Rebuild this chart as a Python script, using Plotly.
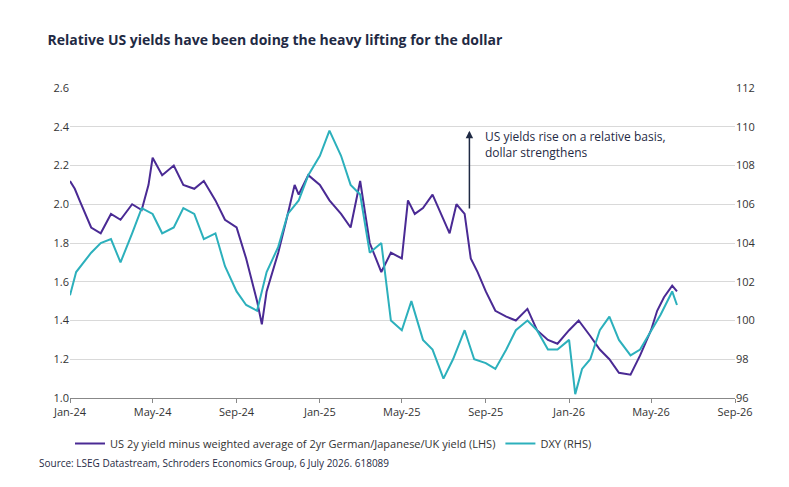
import plotly.graph_objects as go

# LHS: US 2y minus weighted avg of German/Japanese/UK 2y (pp)
spread_dates = [
    "2024-01-01", "2024-01-08", "2024-01-15", "2024-02-01", "2024-02-15", "2024-03-01", "2024-03-15",
    "2024-04-01", "2024-04-15", "2024-04-25", "2024-05-01", "2024-05-15", "2024-06-01", "2024-06-15",
    "2024-07-01", "2024-07-15", "2024-08-01", "2024-08-15", "2024-09-01", "2024-09-15", "2024-10-01",
    "2024-10-08", "2024-10-15", "2024-11-01", "2024-11-15", "2024-11-25", "2024-12-01", "2024-12-15",
    "2025-01-01", "2025-01-15", "2025-02-01", "2025-02-15", "2025-03-01", "2025-03-15", "2025-04-01",
    "2025-04-15", "2025-05-01", "2025-05-10", "2025-05-20", "2025-06-01", "2025-06-15", "2025-07-01",
    "2025-07-10", "2025-07-20", "2025-08-01", "2025-08-10", "2025-08-20", "2025-09-01", "2025-09-15",
    "2025-10-01", "2025-10-15", "2025-11-01", "2025-11-15", "2025-12-01", "2025-12-15", "2026-01-01",
    "2026-01-15", "2026-02-01", "2026-02-15", "2026-03-01", "2026-03-15", "2026-04-01", "2026-04-15",
    "2026-05-01", "2026-05-10", "2026-05-20", "2026-06-01", "2026-06-08",
]
spread = [
    2.12, 2.08, 2.02, 1.88, 1.85, 1.95, 1.92,
    2.00, 1.97, 2.10, 2.24, 2.15, 2.20, 2.10,
    2.08, 2.12, 2.02, 1.92, 1.88, 1.72, 1.50,
    1.38, 1.55, 1.75, 1.95, 2.10, 2.05, 2.15,
    2.10, 2.02, 1.95, 1.88, 2.12, 1.80, 1.65,
    1.75, 1.72, 2.02, 1.95, 1.98, 2.05, 1.92,
    1.85, 2.00, 1.95, 1.72, 1.65, 1.55, 1.45,
    1.42, 1.40, 1.46, 1.35, 1.30, 1.28, 1.35,
    1.40, 1.32, 1.25, 1.20, 1.13, 1.12, 1.22,
    1.35, 1.45, 1.52, 1.58, 1.55,
]

# RHS: DXY index
dxy_dates = [
    "2024-01-01", "2024-01-10", "2024-02-01", "2024-02-15", "2024-03-01", "2024-03-15", "2024-04-01",
    "2024-04-15", "2024-05-01", "2024-05-15", "2024-06-01", "2024-06-15", "2024-07-01", "2024-07-15",
    "2024-08-01", "2024-08-15", "2024-09-01", "2024-09-15", "2024-10-01", "2024-10-15", "2024-11-01",
    "2024-11-15", "2024-12-01", "2024-12-15", "2025-01-01", "2025-01-15", "2025-02-01", "2025-02-15",
    "2025-03-01", "2025-03-15", "2025-04-01", "2025-04-15", "2025-05-01", "2025-05-15", "2025-06-01",
    "2025-06-15", "2025-07-01", "2025-07-15", "2025-08-01", "2025-08-15", "2025-09-01", "2025-09-15",
    "2025-10-01", "2025-10-15", "2025-11-01", "2025-11-15", "2025-12-01", "2025-12-15", "2026-01-01",
    "2026-01-10", "2026-01-20", "2026-02-01", "2026-02-15", "2026-03-01", "2026-03-15", "2026-04-01",
    "2026-04-15", "2026-05-01", "2026-05-15", "2026-06-01", "2026-06-08",
]
dxy = [
    101.3, 102.5, 103.5, 104.0, 104.2, 103.0, 104.5,
    105.8, 105.5, 104.5, 104.8, 105.8, 105.5, 104.2,
    104.5, 102.8, 101.5, 100.8, 100.5, 102.5, 103.8,
    105.5, 106.2, 107.5, 108.5, 109.8, 108.5, 107.0,
    106.5, 103.5, 104.0, 100.0, 99.5, 101.0, 99.0,
    98.5, 97.0, 98.0, 99.5, 98.0, 97.8, 97.5,
    98.5, 99.5, 100.0, 99.5, 98.5, 98.5, 99.0,
    96.2, 97.5, 98.0, 99.5, 100.2, 99.0, 98.2,
    98.5, 99.5, 100.3, 101.5, 100.8,
]

x_ticks = ["2024-01-01", "2024-05-01", "2024-09-01", "2025-01-01", "2025-05-01",
           "2025-09-01", "2026-01-01", "2026-05-01", "2026-09-01"]
x_labels = ["Jan-24", "May-24", "Sep-24", "Jan-25", "May-25", "Sep-25", "Jan-26", "May-26", "Sep-26"]

NAVY = "#1f2a44"
PURPLE = "#4a2a94"
TEAL = "#2cb0bc"

fig = go.Figure()
fig.add_trace(go.Scatter(
    x=spread_dates, y=spread, mode="lines", line=dict(color=PURPLE, width=2),
    name="US 2y yield minus weighted average of 2yr German/Japanese/UK yield (LHS)",
))
fig.add_trace(go.Scatter(
    x=dxy_dates, y=dxy, mode="lines", line=dict(color=TEAL, width=2),
    name="DXY (RHS)", yaxis="y2",
))

# arrow pointing up
fig.add_annotation(x="2025-08-08", y=2.38, ax="2025-08-08", ay=1.97,
                   xref="x", yref="y", axref="x", ayref="y", text="",
                   showarrow=True, arrowhead=2, arrowwidth=1.5, arrowcolor=NAVY)
fig.add_annotation(x="2025-08-28", y=2.31, xref="x", yref="y", xanchor="left", yanchor="middle",
                   align="left", showarrow=False,
                   text="US yields rise on a relative basis,<br>dollar strengthens",
                   font=dict(size=12, color=NAVY))

fig.update_layout(
    width=789, height=487,
    paper_bgcolor="white", plot_bgcolor="white",
    font=dict(family="Open Sans", color="#333333", size=11),
    margin=dict(l=62, r=62, t=80, b=97),
    title=dict(text="<b>Relative US yields have been doing the heavy lifting for the dollar</b>",
               x=0.05, xanchor="left", y=0.945, font=dict(size=14, color=NAVY)),
    xaxis=dict(range=["2024-01-01", "2026-09-01"], tickvals=x_ticks, ticktext=x_labels,
               showgrid=False, showline=True, linecolor="#888888", ticks="outside",
               ticklen=4, tickcolor="#888888", zeroline=False),
    yaxis=dict(range=[1.0, 2.6], dtick=0.2, tickformat=".1f", gridcolor="#d9d9d9",
               zeroline=False, showline=False, ticks=""),
    yaxis2=dict(range=[96, 112], dtick=2, overlaying="y", side="right",
                showgrid=False, zeroline=False),
    legend=dict(orientation="h", x=0.0, y=-0.1, xanchor="left", yanchor="top",
                font=dict(size=11, color="#333333")),
    showlegend=True,
)
fig.add_annotation(x=-0.05, y=-0.24, xref="paper", yref="paper", xanchor="left",
                   showarrow=False,
                   text="Source: LSEG Datastream, Schroders Economics Group, 6 July 2026. 618089",
                   font=dict(size=10, color=NAVY))

fig.write_html("out.html")
